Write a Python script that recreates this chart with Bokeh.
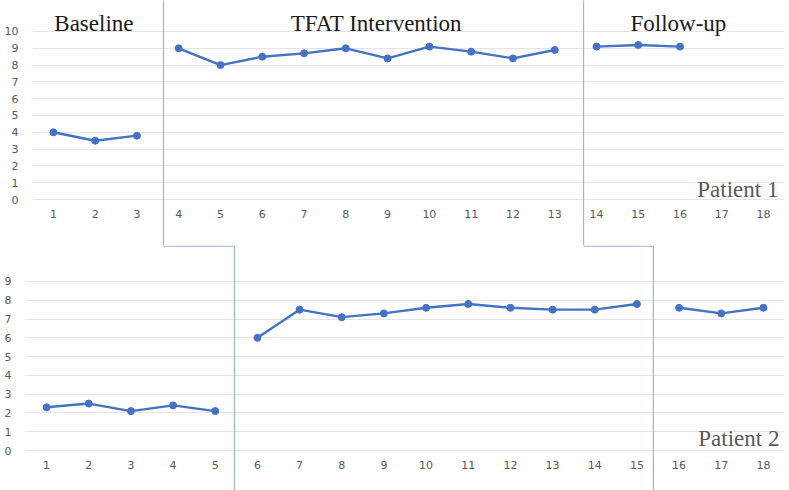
from bokeh.plotting import figure
from bokeh.models import ColumnDataSource, FixedTicker
from bokeh.layouts import column, row
from bokeh.core.properties import value
from bokeh.embed import file_html
from bokeh.resources import INLINE

# ---------------- data ----------------
sessions = list(range(1, 19))

p1_base_x = [1, 2, 3]
p1_base_y = [4.0, 3.5, 3.8]
p1_int_x = [4, 5, 6, 7, 8, 9, 10, 11, 12, 13]
p1_int_y = [9.0, 8.0, 8.5, 8.7, 9.0, 8.4, 9.1, 8.8, 8.4, 8.9]
p1_fu_x = [14, 15, 16]
p1_fu_y = [9.1, 9.2, 9.1]

p2_base_x = [1, 2, 3, 4, 5]
p2_base_y = [2.3, 2.5, 2.1, 2.4, 2.1]
p2_int_x = [6, 7, 8, 9, 10, 11, 12, 13, 14, 15]
p2_int_y = [6.0, 7.5, 7.1, 7.3, 7.6, 7.8, 7.6, 7.5, 7.5, 7.8]
p2_fu_x = [16, 17, 18]
p2_fu_y = [7.6, 7.3, 7.6]

p1_ticks = list(range(0, 11))
p2_ticks = list(range(0, 10))

phase_names = ["Baseline", "TFAT Intervention", "Follow-up"]
phase_label_x = [1.97, 8.73, 15.96]

# ---------------- style ----------------
BLUE = "#4472C4"
DIV = "#9fb4da"
GRID = "#e4e4e4"
TICK_COL = "#595959"
W = 789
H = 245


def base_fig(y_start, y_end, left, y_standoff):
    p = figure(width=W, height=H, output_backend="svg", toolbar_location=None,
               x_range=(0.5, 18.5), y_range=(y_start, y_end),
               min_border_left=left, min_border_right=5,
               min_border_top=0, min_border_bottom=0)
    p.outline_line_color = None
    p.xgrid.grid_line_color = None
    p.ygrid.grid_line_color = GRID
    p.ygrid.grid_line_width = 1
    p.xaxis.ticker = FixedTicker(ticks=sessions)
    p.xaxis.fixed_location = 0
    p.xaxis.major_label_standoff = 10
    p.yaxis.major_label_standoff = y_standoff
    for ax in (p.xaxis, p.yaxis):
        ax.axis_line_color = None
        ax.major_tick_line_color = None
        ax.minor_tick_line_color = None
        ax.major_tick_out = 0
        ax.major_tick_in = 0
        ax.major_label_text_font = "DejaVu Sans"
        ax.major_label_text_font_size = "11px"
        ax.major_label_text_color = TICK_COL
    return p


def series(p, xs, ys):
    src = ColumnDataSource(dict(x=xs, y=ys))
    p.line("x", "y", source=src, line_color=BLUE, line_width=2.4)
    p.scatter("x", "y", source=src, size=7, fill_color=BLUE, line_color=BLUE)


# ---------------- top panel (Patient 1) ----------------
p1 = base_fig(-2.738, 11.845, 32, 14)
p1.yaxis.ticker = FixedTicker(ticks=p1_ticks)
p1.ygrid.ticker = FixedTicker(ticks=p1_ticks)
series(p1, p1_base_x, p1_base_y)
series(p1, p1_int_x, p1_int_y)
series(p1, p1_fu_x, p1_fu_y)

# phase dividers (top part)
p1.segment(x0=[3.635, 13.69], y0=[-5, -5], x1=[3.635, 13.69], y1=[15, 15],
           line_color=DIV, line_width=1.2)

p1.text(x=phase_label_x, y=[10.476] * 3, text=phase_names,
        text_font=value("Liberation Serif"), text_font_size="23px",
        text_color="#1a1a1a", text_align="center", text_baseline="alphabetic")
p1.text(x=[18.355], y=[0.595], text=["Patient 1"],
        text_font=value("Liberation Serif"), text_font_size="23px",
        text_color=TICK_COL, text_align="right", text_baseline="alphabetic")

# ---------------- bottom panel (Patient 2) ----------------
p2 = base_fig(-2.13, 10.917, 25, 14)
p2.yaxis.ticker = FixedTicker(ticks=p2_ticks)
p2.ygrid.ticker = FixedTicker(ticks=p2_ticks)
series(p2, p2_base_x, p2_base_y)
series(p2, p2_int_x, p2_int_y)
series(p2, p2_fu_x, p2_fu_y)

# phase dividers (step part)
y_edge = 10.917 - 0.6 / 18.78
p2.multi_line(xs=[[3.77, 5.456, 5.456], [13.73, 15.39, 15.39]],
              ys=[[y_edge, y_edge, -5], [y_edge, y_edge, -5]],
              line_color=DIV, line_width=1.2)

p2.text(x=[18.38], y=[0.639], text=["Patient 2"],
        text_font=value("Liberation Serif"), text_font_size="23px",
        text_color=TICK_COL, text_align="right", text_baseline="alphabetic")

layout = column(row(p1), row(p2), spacing=0)

open("out.html", "w").write(file_html(layout, INLINE))
